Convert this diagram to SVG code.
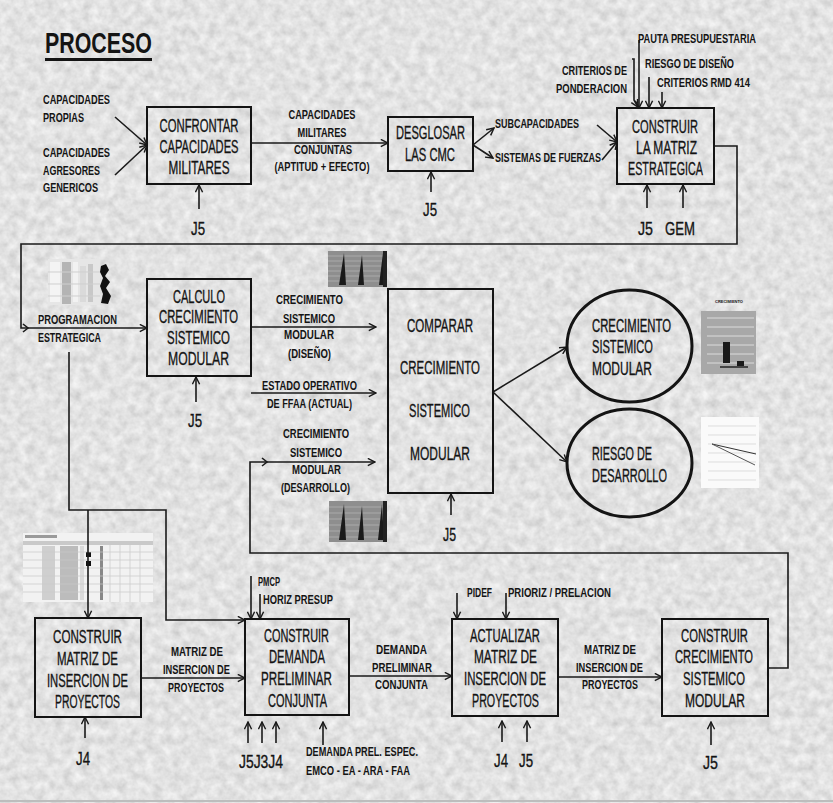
<svg xmlns="http://www.w3.org/2000/svg" width="833" height="803" viewBox="0 0 833 803">
<defs>
<style>
text{font-family:"Liberation Sans",Arial,sans-serif;fill:#141414}
.bx{font-size:18.5px;text-anchor:middle;stroke:#141414;stroke-width:0.35}
.lb{font-size:12.5px;font-weight:bold}
.lc{font-size:12.5px;font-weight:bold;text-anchor:middle}
.le{font-size:12.5px;font-weight:bold;text-anchor:end}
.jj{font-size:18.5px;text-anchor:middle;stroke:#141414;stroke-width:0.35}
.js{font-size:18.5px;stroke:#141414;stroke-width:0.35}
.box{fill:none;stroke:#141414;stroke-width:2}
.ell{fill:none;stroke:#141414;stroke-width:3}
.ln{fill:none;stroke:#1a1a1a;stroke-width:1.6}
.ar{fill:none;stroke:#1a1a1a;stroke-width:1.6;marker-end:url(#ah)}
.grid{stroke:#e8e8e8;stroke-width:0.8}
</style>
<marker id="ah" viewBox="0 0 10 10" refX="9" refY="5" markerWidth="9" markerHeight="9" markerUnits="userSpaceOnUse" orient="auto">
<path d="M1,1 L9,5 L1,9" fill="none" stroke="#1a1a1a" stroke-width="1.6"/>
</marker>
<filter id="tex" x="0" y="0" width="100%" height="100%">
<feTurbulence type="fractalNoise" baseFrequency="0.11" numOctaves="3" seed="7"/>
<feColorMatrix type="matrix" values="0.5 0 0 0 0.55  0.5 0 0 0 0.55  0.5 0 0 0 0.55  0 0 0 0 1"/>
</filter>
</defs>

<rect x="0" y="0" width="833" height="803" fill="#d0d0d0"/>
<rect x="0" y="0" width="833" height="803" filter="url(#tex)" opacity="0.8"/>
<line x1="0" y1="801" x2="833" y2="801" stroke="#bdbdbd" stroke-width="2"/>

<g id="title">
<text x="45" y="53" style="font-size:29px;font-weight:bold" textLength="107" lengthAdjust="spacingAndGlyphs">PROCESO</text>
<rect x="45" y="58" width="107" height="3" fill="#141414"/>
</g>

<g id="images">
<g id="img-programacion">
<rect x="48" y="259" width="52" height="46" fill="#e6e6e6"/>
<rect x="50" y="262" width="10" height="40" fill="#f4f4f4"/>
<rect x="62" y="262" width="9" height="42" fill="#b4b4b4"/>
<rect x="73" y="262" width="5" height="40" fill="#f2f2f2"/>
<rect x="80" y="266" width="6" height="36" fill="#dadada"/>
<rect x="88" y="264" width="5" height="38" fill="#c8c8c8"/>
<line x1="48" y1="272" x2="100" y2="272" stroke="#cfcfcf"/>
<line x1="48" y1="284" x2="100" y2="284" stroke="#cfcfcf"/>
<line x1="48" y1="296" x2="100" y2="296" stroke="#cfcfcf"/>
<path d="M101,266 L106,264 L109,270 L105,276 L110,282 L106,288 L111,296 L108,304 L101,303 L103,294 L100,286 L103,278 L100,272 Z" fill="#111"/>
</g>
<g id="img-hist-top">
<rect x="328" y="251" width="59" height="36" fill="#8e8e8e"/>
<g stroke="#b8b8b8" stroke-width="0.7">
<line x1="328" y1="256" x2="387" y2="256"/><line x1="328" y1="261" x2="387" y2="261"/><line x1="328" y1="266" x2="387" y2="266"/><line x1="328" y1="271" x2="387" y2="271"/><line x1="328" y1="276" x2="387" y2="276"/><line x1="328" y1="281" x2="387" y2="281"/>
</g>
<path d="M339,285 L344,253 L346,285 Z M358,285 L362,255 L364,285 Z M379,285 L383,253 L385,285 Z" fill="#1a1a1a"/>
<rect x="383" y="251" width="4" height="36" fill="#222"/>
</g>
<g id="img-hist-bottom">
<rect x="329" y="501" width="58" height="41" fill="#8e8e8e"/>
<g stroke="#b8b8b8" stroke-width="0.7">
<line x1="329" y1="507" x2="387" y2="507"/><line x1="329" y1="513" x2="387" y2="513"/><line x1="329" y1="519" x2="387" y2="519"/><line x1="329" y1="525" x2="387" y2="525"/><line x1="329" y1="531" x2="387" y2="531"/><line x1="329" y1="537" x2="387" y2="537"/>
</g>
<path d="M339,540 L344,504 L346,540 Z M358,540 L362,506 L364,540 Z M378,540 L382,504 L384,540 Z" fill="#1a1a1a"/>
<rect x="383" y="501" width="4" height="41" fill="#222"/>
</g>
<g id="img-bar">
<text x="729" y="303" style="font-size:4px;font-weight:bold;text-anchor:middle">CRECIMIENTO</text>
<rect x="701" y="311" width="55" height="63" fill="#a8a8a8"/>
<g class="grid">
<line x1="707" y1="318" x2="754" y2="318"/><line x1="707" y1="327" x2="754" y2="327"/><line x1="707" y1="336" x2="754" y2="336"/><line x1="707" y1="345" x2="754" y2="345"/><line x1="707" y1="354" x2="754" y2="354"/><line x1="707" y1="363" x2="754" y2="363"/>
</g>
<rect x="723" y="342" width="7" height="21" fill="#1a1a1a"/>
<rect x="737" y="361" width="7" height="5" fill="#1a1a1a"/>
<rect x="720" y="366" width="28" height="2" fill="#444"/>
</g>
<g id="img-line">
<rect x="701" y="417" width="58" height="71" fill="#fafafa"/>
<g stroke="#d0d0d0" stroke-width="0.7">
<line x1="708" y1="426" x2="756" y2="426"/><line x1="708" y1="435" x2="756" y2="435"/><line x1="708" y1="444" x2="756" y2="444"/><line x1="708" y1="453" x2="756" y2="453"/><line x1="708" y1="462" x2="756" y2="462"/><line x1="708" y1="471" x2="756" y2="471"/><line x1="708" y1="480" x2="756" y2="480"/>
</g>
<line x1="712" y1="444" x2="756" y2="454" stroke="#333" stroke-width="1"/>
<line x1="712" y1="444" x2="755" y2="465" stroke="#555" stroke-width="1"/>
</g>
<g id="img-table">
<rect x="23" y="533" width="130" height="69" fill="#f2f2f2"/>
<rect x="25" y="535" width="32" height="3" fill="#9a9a9a"/>
<rect x="23" y="541" width="130" height="4" fill="#c9c9c9"/>
<rect x="42" y="546" width="13" height="54" fill="#cfcfcf"/>
<rect x="60" y="546" width="18" height="54" fill="#bcbcbc"/>
<rect x="80" y="546" width="4" height="54" fill="#dadada"/>
<rect x="86" y="552" width="5" height="5" fill="#111"/>
<rect x="86" y="561" width="5" height="5" fill="#111"/>
<rect x="100" y="546" width="3" height="54" fill="#888"/>
<g stroke="#c8c8c8" stroke-width="0.7">
<line x1="23" y1="552" x2="153" y2="552"/><line x1="23" y1="560" x2="153" y2="560"/><line x1="23" y1="568" x2="153" y2="568"/><line x1="23" y1="576" x2="153" y2="576"/><line x1="23" y1="584" x2="153" y2="584"/><line x1="23" y1="592" x2="153" y2="592"/>
<line x1="110" y1="541" x2="110" y2="602"/><line x1="120" y1="541" x2="120" y2="602"/><line x1="130" y1="541" x2="130" y2="602"/><line x1="140" y1="541" x2="140" y2="602"/>
</g>
</g>
</g>

<g id="connectors">
<line class="ar" x1="115" y1="117" x2="147" y2="145"/>
<line class="ar" x1="115" y1="175" x2="147" y2="145"/>
<line class="ar" x1="251" y1="143" x2="388" y2="143"/>
<line class="ar" x1="199" y1="209" x2="199" y2="185"/>
<line class="ar" x1="473" y1="145" x2="494" y2="128"/>
<line class="ar" x1="473" y1="145" x2="493" y2="158"/>
<line class="ar" x1="597" y1="125" x2="617" y2="142"/>
<line class="ar" x1="602" y1="160" x2="617" y2="142"/>
<line class="ar" x1="431" y1="192" x2="431" y2="172"/>
<line class="ar" x1="639" y1="40" x2="639" y2="108"/>
<polyline class="ar" points="632,59 634,59 634,100 638,107"/>
<line class="ar" x1="649" y1="77" x2="649" y2="108"/>
<line class="ar" x1="662" y1="92" x2="662" y2="108"/>
<line class="ar" x1="647" y1="208" x2="647" y2="185"/>
<line class="ar" x1="683" y1="208" x2="683" y2="185"/>
<polyline class="ar" points="714,146 737,146 737,244 21,244 21,328 147,328"/>
<path class="ln" d="M23,324 L28,328 L23,332"/>
<line class="ar" x1="251" y1="327" x2="376" y2="327"/>
<line class="ar" x1="196" y1="402" x2="196" y2="377"/>
<line class="ar" x1="251" y1="393" x2="376" y2="393"/>
<polyline class="ar" points="768,668 788,668 788,553 250,553 250,462 375,462"/>
<path class="ln" d="M262,458 L267,462 L262,466"/>
<line class="ar" x1="493" y1="392" x2="567" y2="347"/>
<line class="ar" x1="493" y1="392" x2="567" y2="462"/>
<line class="ar" x1="451" y1="515" x2="451" y2="494"/>
<polyline class="ar" points="69,352 69,510 166,510 166,620 245,620"/>
<line class="ar" x1="88" y1="510" x2="88" y2="618"/>
<line class="ar" x1="141" y1="678" x2="245" y2="678"/>
<line class="ar" x1="85" y1="738" x2="85" y2="717"/>
<line class="ar" x1="251" y1="576" x2="251" y2="619"/>
<line class="ar" x1="260" y1="594" x2="260" y2="619"/>
<line class="ar" x1="248" y1="743" x2="248" y2="722"/>
<line class="ar" x1="262" y1="743" x2="262" y2="722"/>
<line class="ar" x1="276" y1="743" x2="276" y2="722"/>
<line class="ar" x1="323" y1="745" x2="323" y2="722"/>
<line class="ar" x1="349" y1="676" x2="452" y2="676"/>
<line class="ar" x1="457" y1="593" x2="457" y2="619"/>
<line class="ar" x1="506" y1="593" x2="506" y2="619"/>
<line class="ar" x1="502" y1="742" x2="502" y2="721"/>
<line class="ar" x1="527" y1="742" x2="527" y2="721"/>
<line class="ar" x1="558" y1="677" x2="662" y2="677"/>
<line class="ar" x1="711" y1="745" x2="711" y2="722"/>
</g>

<g id="connector-labels">
<text class="lb" x="43" y="104" textLength="67" lengthAdjust="spacingAndGlyphs">CAPACIDADES</text>
<text class="lb" x="43" y="122" textLength="41" lengthAdjust="spacingAndGlyphs">PROPIAS</text>
<text class="lb" x="43" y="157" textLength="67" lengthAdjust="spacingAndGlyphs">CAPACIDADES</text>
<text class="lb" x="43" y="175" textLength="57" lengthAdjust="spacingAndGlyphs">AGRESORES</text>
<text class="lb" x="43" y="192" textLength="55" lengthAdjust="spacingAndGlyphs">GENERICOS</text>
<text class="lc" x="322" y="119" textLength="67" lengthAdjust="spacingAndGlyphs">CAPACIDADES</text>
<text class="lc" x="322" y="137" textLength="49" lengthAdjust="spacingAndGlyphs">MILITARES</text>
<text class="lc" x="323" y="154" textLength="58" lengthAdjust="spacingAndGlyphs">CONJUNTAS</text>
<text class="lc" x="322" y="171" textLength="95" lengthAdjust="spacingAndGlyphs">(APTITUD + EFECTO)</text>
<text class="jj" x="198" y="235" textLength="14" lengthAdjust="spacingAndGlyphs">J5</text>
<text class="jj" x="430" y="216" textLength="14" lengthAdjust="spacingAndGlyphs">J5</text>
<text class="lb" x="495" y="128" textLength="84" lengthAdjust="spacingAndGlyphs">SUBCAPACIDADES</text>
<text class="lb" x="495" y="162" textLength="106" lengthAdjust="spacingAndGlyphs">SISTEMAS DE FUERZAS</text>
<text class="lb" x="638" y="43" textLength="118" lengthAdjust="spacingAndGlyphs">PAUTA PRESUPUESTARIA</text>
<text class="lb" x="645" y="68" textLength="89" lengthAdjust="spacingAndGlyphs">RIESGO DE DISEÑO</text>
<text class="lb" x="657" y="87" textLength="93" lengthAdjust="spacingAndGlyphs">CRITERIOS RMD 414</text>
<text class="le" x="627" y="75" textLength="65" lengthAdjust="spacingAndGlyphs">CRITERIOS DE</text>
<text class="le" x="627" y="93" textLength="71" lengthAdjust="spacingAndGlyphs">PONDERACION</text>
<text class="jj" x="645.5" y="235" textLength="15" lengthAdjust="spacingAndGlyphs">J5</text>
<text class="jj" x="680" y="235" textLength="30" lengthAdjust="spacingAndGlyphs">GEM</text>
<text class="lb" x="38" y="324" textLength="79" lengthAdjust="spacingAndGlyphs">PROGRAMACION</text>
<text class="lb" x="38" y="342" textLength="63" lengthAdjust="spacingAndGlyphs">ESTRATEGICA</text>
<text class="jj" x="195" y="427" textLength="14" lengthAdjust="spacingAndGlyphs">J5</text>
<text class="lc" x="309.5" y="304" textLength="67" lengthAdjust="spacingAndGlyphs">CRECIMIENTO</text>
<text class="lc" x="309" y="323" textLength="52" lengthAdjust="spacingAndGlyphs">SISTEMICO</text>
<text class="lc" x="309" y="339" textLength="50" lengthAdjust="spacingAndGlyphs">MODULAR</text>
<text class="lc" x="309.5" y="358" textLength="43" lengthAdjust="spacingAndGlyphs">(DISEÑO)</text>
<text class="lc" x="309.5" y="390" textLength="95" lengthAdjust="spacingAndGlyphs">ESTADO OPERATIVO</text>
<text class="lc" x="309.5" y="408" textLength="85" lengthAdjust="spacingAndGlyphs">DE FFAA (ACTUAL)</text>
<text class="lc" x="316" y="438" textLength="66" lengthAdjust="spacingAndGlyphs">CRECIMIENTO</text>
<text class="lc" x="316" y="457" textLength="52" lengthAdjust="spacingAndGlyphs">SISTEMICO</text>
<text class="lc" x="316.5" y="474" textLength="49" lengthAdjust="spacingAndGlyphs">MODULAR</text>
<text class="lc" x="315.5" y="492" textLength="69" lengthAdjust="spacingAndGlyphs">(DESARROLLO)</text>
<text class="jj" x="449.5" y="541" textLength="13" lengthAdjust="spacingAndGlyphs">J5</text>
<text class="jj" x="83" y="765" textLength="14" lengthAdjust="spacingAndGlyphs">J4</text>
<text class="lc" x="197" y="656" style="font-size:12px" textLength="52" lengthAdjust="spacingAndGlyphs">MATRIZ DE</text>
<text class="lc" x="196.5" y="674" style="font-size:12px" textLength="67" lengthAdjust="spacingAndGlyphs">INSERCION DE</text>
<text class="lc" x="196" y="692" style="font-size:12px" textLength="56" lengthAdjust="spacingAndGlyphs">PROYECTOS</text>
<text class="lb" x="258" y="586" textLength="22" lengthAdjust="spacingAndGlyphs">PMCP</text>
<text class="lb" x="263" y="604" textLength="70" lengthAdjust="spacingAndGlyphs">HORIZ PRESUP</text>
<text class="js" x="239" y="768" textLength="44" lengthAdjust="spacingAndGlyphs">J5J3J4</text>
<text class="lb" x="306" y="756" textLength="112" lengthAdjust="spacingAndGlyphs">DEMANDA PREL. ESPEC.</text>
<text class="lb" x="306" y="775" textLength="104" lengthAdjust="spacingAndGlyphs">EMCO - EA - ARA - FAA</text>
<text class="lc" x="401.5" y="654" style="font-size:12px" textLength="51" lengthAdjust="spacingAndGlyphs">DEMANDA</text>
<text class="lc" x="402" y="672" style="font-size:12px" textLength="60" lengthAdjust="spacingAndGlyphs">PRELIMINAR</text>
<text class="lc" x="401.5" y="689" style="font-size:12px" textLength="53" lengthAdjust="spacingAndGlyphs">CONJUNTA</text>
<text class="lb" x="467" y="597" textLength="25" lengthAdjust="spacingAndGlyphs">PIDEF</text>
<text class="lb" x="508" y="597" textLength="103" lengthAdjust="spacingAndGlyphs">PRIORIZ / PRELACION</text>
<text class="jj" x="501" y="767" textLength="14" lengthAdjust="spacingAndGlyphs">J4</text>
<text class="jj" x="526" y="767" textLength="14" lengthAdjust="spacingAndGlyphs">J5</text>
<text class="lc" x="610" y="654" style="font-size:12px" textLength="52" lengthAdjust="spacingAndGlyphs">MATRIZ DE</text>
<text class="lc" x="609.5" y="672" style="font-size:12px" textLength="67" lengthAdjust="spacingAndGlyphs">INSERCION DE</text>
<text class="lc" x="610" y="689" style="font-size:12px" textLength="56" lengthAdjust="spacingAndGlyphs">PROYECTOS</text>
<text class="jj" x="710.5" y="769" textLength="15" lengthAdjust="spacingAndGlyphs">J5</text>
</g>

<g id="n-confrontar">
<rect class="box" x="147" y="107" width="104" height="77"/>
<text class="bx" x="199" y="132" textLength="79" lengthAdjust="spacingAndGlyphs">CONFRONTAR</text>
<text class="bx" x="199" y="153" textLength="79" lengthAdjust="spacingAndGlyphs">CAPACIDADES</text>
<text class="bx" x="199" y="174" textLength="61" lengthAdjust="spacingAndGlyphs">MILITARES</text>
</g>
<g id="n-desglosar">
<rect class="box" x="388" y="117" width="85" height="54"/>
<text class="bx" x="430.5" y="139" textLength="69" lengthAdjust="spacingAndGlyphs">DESGLOSAR</text>
<text class="bx" x="430" y="161" textLength="50" lengthAdjust="spacingAndGlyphs">LAS CMC</text>
</g>
<g id="n-matriz-estrategica">
<rect class="box" x="617" y="108" width="97" height="76"/>
<text class="bx" x="665" y="133" textLength="66" lengthAdjust="spacingAndGlyphs">CONSTRUIR</text>
<text class="bx" x="666.5" y="154" textLength="61" lengthAdjust="spacingAndGlyphs">LA MATRIZ</text>
<text class="bx" x="665.5" y="175" textLength="75" lengthAdjust="spacingAndGlyphs">ESTRATEGICA</text>
</g>
<g id="n-calculo">
<rect class="box" x="147" y="279" width="104" height="97"/>
<text class="bx" x="199" y="303" textLength="52" lengthAdjust="spacingAndGlyphs">CALCULO</text>
<text class="bx" x="198.5" y="323" textLength="79" lengthAdjust="spacingAndGlyphs">CRECIMIENTO</text>
<text class="bx" x="198.5" y="344" textLength="63" lengthAdjust="spacingAndGlyphs">SISTEMICO</text>
<text class="bx" x="198.5" y="365" textLength="61" lengthAdjust="spacingAndGlyphs">MODULAR</text>
</g>
<g id="n-comparar">
<rect class="box" x="388" y="289" width="105" height="204"/>
<text class="bx" x="440" y="332" textLength="66" lengthAdjust="spacingAndGlyphs">COMPARAR</text>
<text class="bx" x="440" y="374" textLength="80" lengthAdjust="spacingAndGlyphs">CRECIMIENTO</text>
<text class="bx" x="439.5" y="417" textLength="61" lengthAdjust="spacingAndGlyphs">SISTEMICO</text>
<text class="bx" x="440" y="460" textLength="60" lengthAdjust="spacingAndGlyphs">MODULAR</text>
</g>
<g id="n-crecimiento">
<ellipse class="ell" cx="629.5" cy="346" rx="62.5" ry="56"/>
<text class="js" x="592" y="332" textLength="79" lengthAdjust="spacingAndGlyphs">CRECIMIENTO</text>
<text class="js" x="592" y="353" textLength="61" lengthAdjust="spacingAndGlyphs">SISTEMICO</text>
<text class="js" x="592" y="375" textLength="60" lengthAdjust="spacingAndGlyphs">MODULAR</text>
</g>
<g id="n-riesgo">
<ellipse class="ell" cx="629.5" cy="463" rx="62.5" ry="54"/>
<text class="js" x="592" y="460" textLength="60" lengthAdjust="spacingAndGlyphs">RIESGO DE</text>
<text class="js" x="592" y="482" textLength="75" lengthAdjust="spacingAndGlyphs">DESARROLLO</text>
</g>
<g id="n-matriz-insercion">
<rect class="box" x="35" y="618" width="106" height="99"/>
<text class="bx" x="87.5" y="643" textLength="69" lengthAdjust="spacingAndGlyphs">CONSTRUIR</text>
<text class="bx" x="87.5" y="665" textLength="61" lengthAdjust="spacingAndGlyphs">MATRIZ DE</text>
<text class="bx" x="87.5" y="687" textLength="81" lengthAdjust="spacingAndGlyphs">INSERCION DE</text>
<text class="bx" x="87.5" y="708" textLength="65" lengthAdjust="spacingAndGlyphs">PROYECTOS</text>
</g>
<g id="n-demanda">
<rect class="box" x="245" y="619" width="104" height="96"/>
<text class="bx" x="296.5" y="642" textLength="65" lengthAdjust="spacingAndGlyphs">CONSTRUIR</text>
<text class="bx" x="297" y="663" textLength="56" lengthAdjust="spacingAndGlyphs">DEMANDA</text>
<text class="bx" x="296.5" y="685" textLength="71" lengthAdjust="spacingAndGlyphs">PRELIMINAR</text>
<text class="bx" x="297.5" y="707" textLength="59" lengthAdjust="spacingAndGlyphs">CONJUNTA</text>
</g>
<g id="n-actualizar">
<rect class="box" x="452" y="619" width="106" height="97"/>
<text class="bx" x="505" y="642" textLength="70" lengthAdjust="spacingAndGlyphs">ACTUALIZAR</text>
<text class="bx" x="505.5" y="663" textLength="63" lengthAdjust="spacingAndGlyphs">MATRIZ DE</text>
<text class="bx" x="505" y="685" textLength="82" lengthAdjust="spacingAndGlyphs">INSERCION DE</text>
<text class="bx" x="505.5" y="707" textLength="67" lengthAdjust="spacingAndGlyphs">PROYECTOS</text>
</g>
<g id="n-construir-crecimiento">
<rect class="box" x="662" y="619" width="106" height="97"/>
<text class="bx" x="714.5" y="642" textLength="67" lengthAdjust="spacingAndGlyphs">CONSTRUIR</text>
<text class="bx" x="714" y="663" textLength="78" lengthAdjust="spacingAndGlyphs">CRECIMIENTO</text>
<text class="bx" x="714" y="685" textLength="62" lengthAdjust="spacingAndGlyphs">SISTEMICO</text>
<text class="bx" x="715" y="707" textLength="60" lengthAdjust="spacingAndGlyphs">MODULAR</text>
</g>
</svg>
